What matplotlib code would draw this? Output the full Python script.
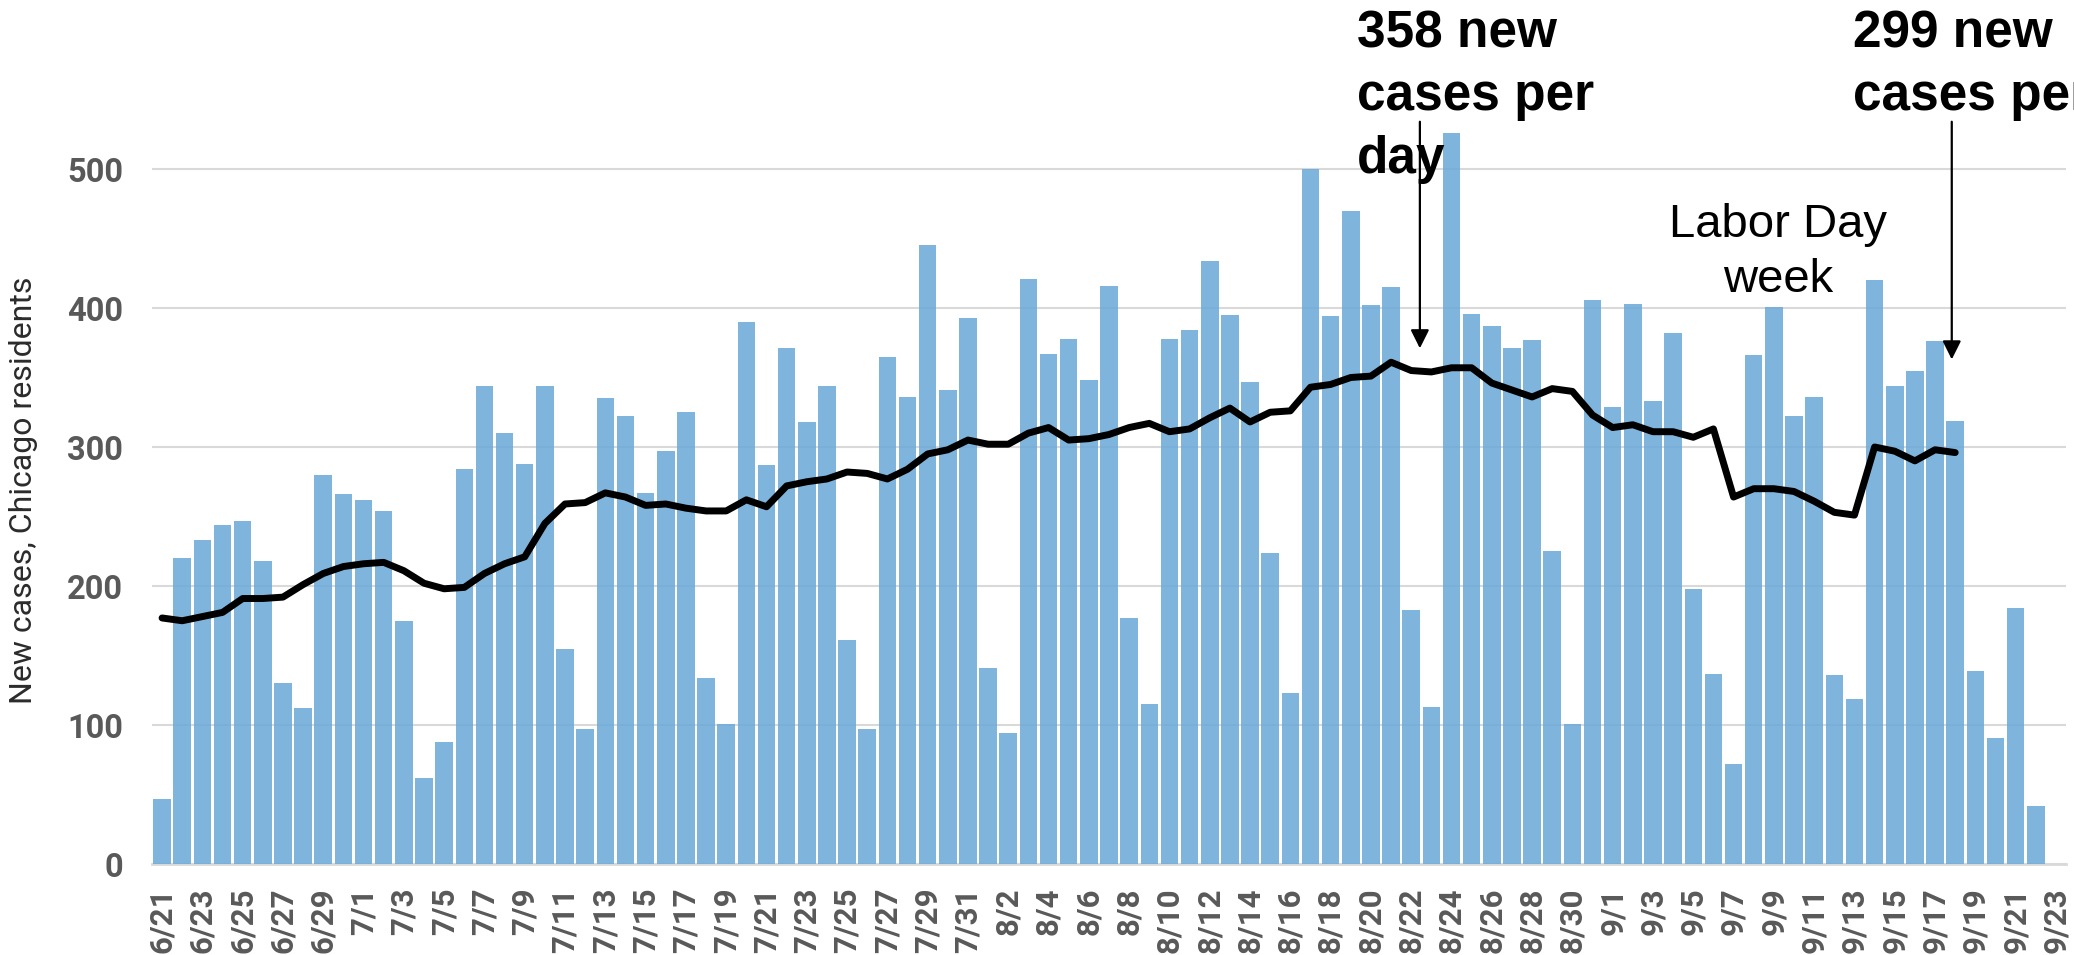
import matplotlib
matplotlib.use("Agg")
import matplotlib.pyplot as plt
import numpy as np
import pandas as pd

# ---- data ----
dates = pd.date_range("2020-06-21", "2020-09-23", freq="D")
categories = [f"{d.month}/{d.day}" for d in dates]

daily_cases = [
    47, 220, 233, 244, 247, 218, 130, 112, 280, 266,            # 6/21-6/30
    262, 254, 175, 62, 88, 284, 344, 310, 288, 344,             # 7/1-7/10
    155, 97, 335, 322, 267, 297, 325, 134, 101, 390,            # 7/11-7/20
    287, 371, 318, 344, 161, 97, 365, 336, 445, 341, 393,       # 7/21-7/31
    141, 94, 421, 367, 378, 348, 416, 177, 115, 378,            # 8/1-8/10
    384, 434, 395, 347, 224, 123, 500, 394, 470, 402,           # 8/11-8/20
    415, 183, 113, 526, 396, 387, 371, 377, 225, 101, 406,      # 8/21-8/31
    329, 403, 333, 382, 198, 137, 72, 366, 401, 322,            # 9/1-9/10
    336, 136, 119, 420, 344, 355, 376, 319, 139, 91,            # 9/11-9/20
    184, 42,                                                    # 9/21-9/22
]

rolling_avg = [
    177, 175, 178, 181, 191, 191, 192, 201, 209, 214,           # 6/21-6/30
    216, 217, 211, 202, 198, 199, 209, 216, 221, 245,           # 7/1-7/10
    259, 260, 267, 264, 258, 259, 256, 254, 254, 262,           # 7/11-7/20
    257, 272, 275, 277, 282, 281, 277, 284, 295, 298, 305,      # 7/21-7/31
    302, 302, 310, 314, 305, 306, 309, 314, 317, 311,           # 8/1-8/10
    313, 321, 328, 318, 325, 326, 343, 345, 350, 351,           # 8/11-8/20
    361, 355, 354, 357, 357, 346, 341, 336, 342, 340, 323,      # 8/21-8/31
    314, 316, 311, 311, 307, 313, 264, 270, 270, 268,           # 9/1-9/10
    261, 253, 251, 300, 297, 290, 298, 296,                     # 9/11-9/18
]

ytick_values = [0, 100, 200, 300, 400, 500]

# ---- figure ----
W, H = 2074, 955
fig = plt.figure(figsize=(W / 100, H / 100), dpi=100)
ax_left, ax_right, ax_bottom = 152, 2066, 864
ymax = 560
px_per_unit = (864 - 169) / 500
ax_h = ymax * px_per_unit
ax_w = ax_right - ax_left
ax = fig.add_axes([ax_left / W, (H - ax_bottom) / H, ax_w / W, ax_h / H])

x_bars = np.arange(len(daily_cases))
ax.bar(x_bars, daily_cases, width=0.87, color=(106/255, 169/255, 216/255), alpha=0.86,
       zorder=2, linewidth=0)
x_line = np.arange(len(rolling_avg))
ax.plot(x_line, rolling_avg, color="black", lw=5.0, zorder=3,
        solid_joinstyle="round", solid_capstyle="round")

ax.set_xlim(-0.5, len(categories) - 0.5)
ax.set_ylim(0, ymax)

ax.set_yticks(ytick_values)
ax.set_yticklabels([str(v) for v in ytick_values])
ax.set_xticks(np.arange(0, len(categories), 2))
ax.set_xticklabels(categories[::2], rotation=90)

tick_family = ["Roboto", "DejaVu Sans"]
for lab in ax.get_yticklabels():
    lab.set_fontfamily(tick_family); lab.set_fontweight("bold")
    lab.set_fontsize(23.5); lab.set_color("#595959")
for lab in ax.get_xticklabels():
    lab.set_fontfamily(tick_family); lab.set_fontweight("bold")
    lab.set_fontsize(22.5); lab.set_color("#595959")

ax.tick_params(axis="y", length=0, pad=21)
ax.tick_params(axis="x", length=0, pad=17)

ax.grid(axis="y", color="#d9d9d9", lw=1.5, zorder=0)
ax.set_axisbelow(True)
for s in ["top", "right", "left"]:
    ax.spines[s].set_visible(False)
ax.spines["bottom"].set_color("#d9d9d9")
ax.spines["bottom"].set_linewidth(2)
ax.spines["bottom"].set_zorder(1)

ax.set_ylabel("New cases, Chicago residents", family=["Roboto", "DejaVu Sans"],
              weight="normal", fontsize=23, color="#2b2b2b")
ax.yaxis.label.set_va("center")
ax.yaxis.set_label_coords(-(ax_left - 24) / ax_w, (ax_bottom - 490) / ax_h)

# ---- annotations ----
def px_to_fig(xp, yp):
    return xp / W, (H - yp) / H

bold_font = dict(family=["Liberation Sans", "DejaVu Sans"], weight="bold", size=37)
for xp, lines in [(1357, ["358 new", "cases per", "day"]),
                  (1853, ["299 new", "cases per day"])]:
    for i, line in enumerate(lines):
        fx, fy = px_to_fig(xp, 47 + i * 63)
        fig.text(fx, fy, line, ha="left", va="baseline", color="black", **bold_font)

reg_font = dict(family=["Liberation Sans", "DejaVu Sans"], size=34)
for i, line in enumerate(["Labor Day", "week"]):
    fx, fy = px_to_fig(1778, 237 + i * 55)
    fig.text(fx, fy, line, ha="center", va="baseline", color="black", **reg_font)

arrow_props = dict(arrowstyle="-|>", color="black", lw=1.6, mutation_scale=28,
                   shrinkA=0, shrinkB=0)
for xa, y_top, y_tip in [(62.43, 534, 371), (88.83, 534, 363)]:
    ax.annotate("", xy=(xa, y_tip), xytext=(xa, y_top), annotation_clip=False,
                arrowprops=arrow_props, zorder=4)

fig.savefig("out.png", dpi=100)
